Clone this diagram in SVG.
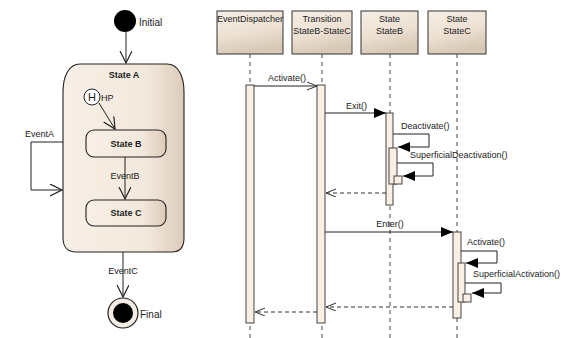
<svg xmlns="http://www.w3.org/2000/svg" width="565" height="338" viewBox="0 0 565 338">
<defs>
<linearGradient id="gState" x1="0" y1="0" x2="1" y2="0">
<stop offset="0" stop-color="#f7efe6"/>
<stop offset="0.7" stop-color="#f3e8dc"/>
<stop offset="1" stop-color="#dccbb9"/>
</linearGradient>
<linearGradient id="gHead" x1="0" y1="0" x2="0.3" y2="1">
<stop offset="0" stop-color="#f6eee5"/>
<stop offset="0.6" stop-color="#ece0d2"/>
<stop offset="1" stop-color="#d8c8b6"/>
</linearGradient>
<marker id="openV" markerUnits="userSpaceOnUse" markerWidth="14" markerHeight="14" refX="12" refY="6" orient="auto" viewBox="0 0 14 14">
<path d="M0,0 L12,6 L0,12" fill="none" stroke="#222" stroke-width="1.2"/>
</marker>
<marker id="openS" markerUnits="userSpaceOnUse" markerWidth="12" markerHeight="10" refX="10" refY="4" orient="auto" viewBox="0 0 12 10">
<path d="M0,0 L10,4 L0,8" fill="none" stroke="#333" stroke-width="1"/>
</marker>
<marker id="fill" markerUnits="userSpaceOnUse" markerWidth="14" markerHeight="12" refX="12" refY="5" orient="auto" viewBox="0 0 14 12">
<path d="M0,0 L12,5 L0,10 Z" fill="#000"/>
</marker>
</defs>
<style>
text{font-family:"Liberation Sans",Arial,sans-serif;font-size:9px;fill:#222}
.b{font-weight:bold}
.m{text-anchor:middle}
.st{fill:url(#gState);stroke:#222;stroke-width:1.1}
.hd{fill:url(#gHead);stroke:#333;stroke-width:1}
.ln{fill:none;stroke:#222;stroke-width:1}
.life{fill:none;stroke:#444;stroke-width:1;stroke-dasharray:4,4}
.bar{fill:#fbeee2;stroke:#444;stroke-width:1}
.ret{fill:none;stroke:#333;stroke-width:1;stroke-dasharray:4,3}
</style>

<!-- State machine -->
<g id="initial">
<circle cx="125" cy="21" r="11" fill="#000"/>
<text x="139" y="26" style="font-size:10px">Initial</text>
</g>
<g id="stateA">
<path class="st" d="M80,64 L167,64 C178,64 184,76 184,92 L184,238 C184,247 180,252 172,252 L76,252 C68,252 63,247 63,238 L63,92 C63,76 69,64 80,64 Z"/>
<text class="b m" x="124" y="78">State A</text>
</g>
<g id="history">
<circle cx="92" cy="97" r="8" fill="#fff" stroke="#222" stroke-width="1"/>
<text class="m" x="92" y="101" style="font-size:11px">H</text>
<text x="101" y="101">HP</text>
</g>
<g id="stateB">
<rect class="st" x="86" y="130" width="80" height="27" rx="8"/>
<text class="b m" x="126" y="147">State B</text>
</g>
<g id="stateC">
<rect class="st" x="86" y="200" width="80" height="26" rx="8"/>
<text class="b m" x="126" y="216">State C</text>
</g>
<g id="final">
<circle cx="123" cy="313" r="15" fill="#f3ece4" stroke="#222" stroke-width="1.2"/>
<circle cx="123" cy="313" r="10" fill="#000"/>
<text x="140" y="318" style="font-size:10px">Final</text>
</g>

<!-- Sequence headers -->
<g id="eventDispatcher">
<rect class="hd" x="217" y="11" width="66" height="43"/>
<text class="m" x="250" y="22">EventDispatcher</text>
</g>
<g id="transition">
<rect class="hd" x="292" y="11" width="60" height="43"/>
<text class="m" x="322" y="22">Transition</text>
<text class="m" x="322" y="34">StateB-StateC</text>
</g>
<g id="lifeStateB">
<rect class="hd" x="361" y="11" width="57" height="43"/>
<text class="m" x="389.5" y="22">State</text>
<text class="m" x="389.5" y="34">StateB</text>
</g>
<g id="lifeStateC">
<rect class="hd" x="428" y="11" width="58" height="43"/>
<text class="m" x="457" y="22">State</text>
<text class="m" x="457" y="34">StateC</text>
</g>

<g id="connectors">
<!-- state machine transitions -->
<line class="ln" x1="126" y1="32" x2="126" y2="63" marker-end="url(#openV)"/>
<line class="ln" x1="99" y1="103" x2="115" y2="129" marker-end="url(#openV)"/>
<line class="ln" x1="125" y1="157" x2="125" y2="199" marker-end="url(#openV)"/>
<text class="m" x="125" y="179">EventB</text>
<polyline class="ln" points="63,142 31,142 31,190 62,190" marker-end="url(#openV)"/>
<text x="25" y="137">EventA</text>
<line class="ln" x1="123" y1="252" x2="123" y2="297" marker-end="url(#openV)"/>
<text class="m" x="123" y="274">EventC</text>

<!-- lifelines -->
<line class="life" x1="250" y1="54" x2="250" y2="338"/>
<line class="life" x1="322" y1="54" x2="322" y2="338"/>
<line class="life" x1="390" y1="54" x2="390" y2="338"/>
<line class="life" x1="457" y1="54" x2="457" y2="338"/>

<!-- activation bars -->
<rect class="bar" x="246" y="85" width="8" height="238"/>
<rect class="bar" x="317" y="85" width="8" height="238"/>
<rect class="bar" x="386" y="113" width="7" height="92"/>
<rect class="bar" x="389" y="148" width="8" height="36"/>
<rect class="bar" x="394" y="176" width="8" height="8"/>
<rect class="bar" x="453" y="232" width="8" height="86"/>
<rect class="bar" x="458" y="263" width="7" height="39"/>
<rect class="bar" x="463" y="294" width="8" height="8"/>

<!-- messages -->
<line class="ln" x1="254" y1="86" x2="317" y2="86" marker-end="url(#openS)"/>
<text x="268" y="81">Activate()</text>
<line class="ln" x1="325" y1="113" x2="386" y2="113" marker-end="url(#fill)"/>
<text x="346" y="109">Exit()</text>
<polyline class="ln" points="393,134 429,134 429,147 398,147" marker-end="url(#fill)"/>
<text x="401" y="129">Deactivate()</text>
<polyline class="ln" points="397,163 433,163 433,176 403,176" marker-end="url(#fill)"/>
<text x="410" y="158">SuperficialDeactivation()</text>
<line class="ret" x1="386" y1="193" x2="326" y2="193" marker-end="url(#openS)"/>
<line class="ln" x1="325" y1="232" x2="453" y2="232" marker-end="url(#fill)"/>
<text class="m" x="390" y="227">Enter()</text>
<polyline class="ln" points="461,251 497,251 497,263 466,263" marker-end="url(#fill)"/>
<text x="467" y="245">Activate()</text>
<polyline class="ln" points="465,283 501,283 501,293 472,293" marker-end="url(#fill)"/>
<text x="473" y="277">SuperficialActivation()</text>
<line class="ret" x1="453" y1="307" x2="326" y2="307" marker-end="url(#openS)"/>
<line class="ret" x1="317" y1="312" x2="255" y2="312" marker-end="url(#openS)"/>
</g>
</svg>
